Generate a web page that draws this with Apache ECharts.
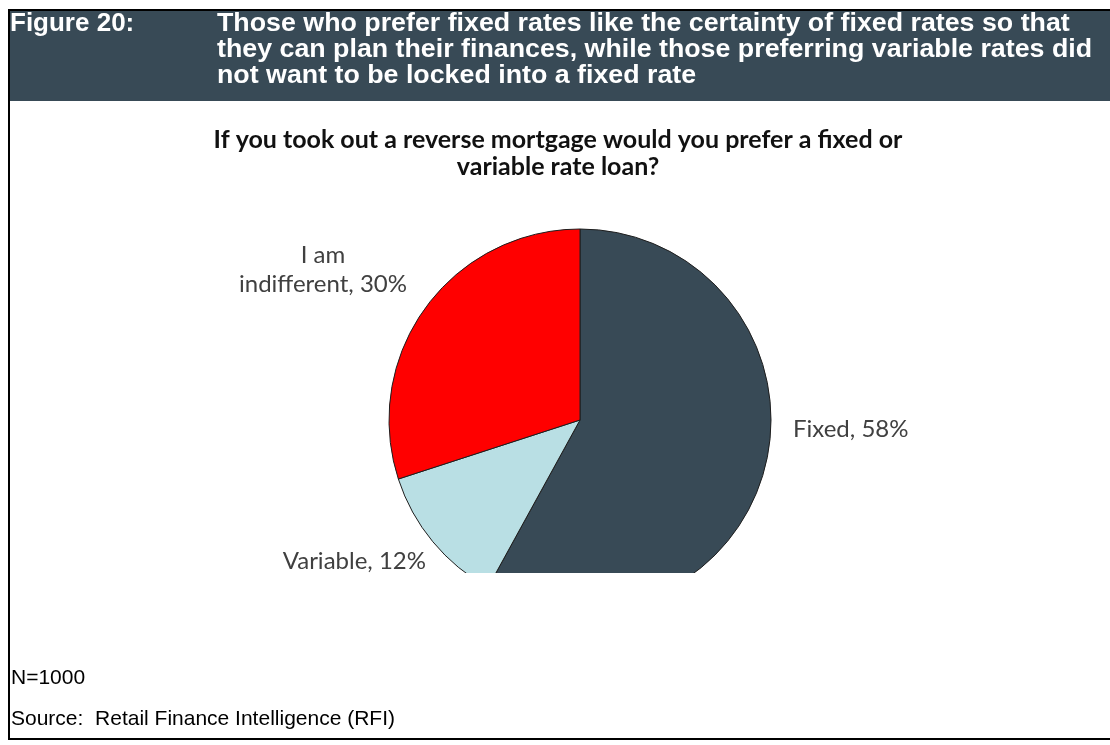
<!DOCTYPE html>
<html>
<head>
<meta charset="utf-8">
<style>
  html, body { margin: 0; padding: 0; background: #ffffff; }
  #chart { width: 1110px; height: 745px; }
</style>
<script src="https://cdn.jsdelivr.net/npm/echarts@6/dist/echarts.min.js"></script>
</head>
<body>
<div id="chart"></div>
<script>
// Survey answers (share of respondents, %)
const categories = ['Fixed', 'Variable', 'I am\nindifferent'];
const shares = [58, 12, 30];
const sliceColors = ['#384a56', '#b9dfe4', '#ff0000'];

const figureLabel = 'Figure 20:';
const headline = 'Those who prefer fixed rates like the certainty of fixed rates so that\nthey can plan their finances, while those preferring variable rates did\nnot want to be locked into a fixed rate';
const question = 'If you took out a reverse mortgage would you prefer a fixed or\nvariable rate loan?';
const sampleNote = 'N=1000';
const sourceNote = 'Source:  Retail Finance Intelligence (RFI)';

// Where each slice label sits beside the pie
const labelSpots = [
  { x: 793, y: 429, align: 'left' },
  { x: 426, y: 561, align: 'right' },
  { x: 323, y: 270, align: 'center' }
];

const chart = echarts.init(document.getElementById('chart'), null, { renderer: 'canvas' });

const headerColor = '#384a56';
const labelFont = 'Lato, "Open Sans", sans-serif';
const arialFont = '"Liberation Sans", Arial, sans-serif';

chart.setOption({
  animation: false,
  backgroundColor: '#ffffff',
  series: [{
    type: 'pie',
    center: [580, 420],
    radius: 191,
    startAngle: 90,
    clockwise: true,
    avoidLabelOverlap: false,
    z: 2,
    data: categories.map((name, i) => ({
      name: name,
      value: shares[i],
      itemStyle: { color: sliceColors[i] }
    })),
    itemStyle: { borderColor: '#1e1e1e', borderWidth: 1 },
    label: {
      show: true,
      position: 'outside',
      formatter: p => p.name + ', ' + p.value + '%',
      fontFamily: labelFont,
      fontSize: 24,
      lineHeight: 29,
      color: '#404040'
    },
    labelLine: { show: false },
    labelLayout: p => {
      const s = labelSpots[p.dataIndex];
      return { x: s.x, y: s.y, align: s.align, verticalAlign: 'middle' };
    },
    emphasis: { disabled: true }
  }],
  graphic: [
    // plot frame ends here: hide the lower part of the pie
    { type: 'rect', z: 100, shape: { x: 440, y: 573, width: 340, height: 160 }, style: { fill: '#ffffff' } },
    // header band
    { type: 'rect', z: 101, shape: { x: 9, y: 11, width: 1101, height: 90 }, style: { fill: headerColor } },
    // frame lines
    { type: 'rect', z: 102, shape: { x: 8, y: 9, width: 1102, height: 2 }, style: { fill: '#000000' } },
    { type: 'rect', z: 102, shape: { x: 8, y: 9, width: 2, height: 731 }, style: { fill: '#000000' } },
    { type: 'rect', z: 102, shape: { x: 8, y: 738, width: 1102, height: 2 }, style: { fill: '#000000' } },
    // header text
    {
      type: 'text', z: 103, x: 10, y: 11,
      style: {
        text: figureLabel, fill: '#ffffff',
        font: 'bold 26px ' + arialFont,
        lineHeight: 26, verticalAlign: 'top'
      }
    },
    {
      type: 'text', z: 103, x: 217, y: 11, scaleX: 1.03,
      style: {
        text: headline, fill: '#ffffff',
        font: 'bold 26px ' + arialFont,
        lineHeight: 26, verticalAlign: 'top'
      }
    },
    // chart question
    {
      type: 'text', z: 103, x: 558, y: 153,
      style: {
        text: question, fill: '#111111',
        font: 'bold 25px ' + labelFont,
        lineHeight: 27, align: 'center', verticalAlign: 'middle'
      }
    },
    // footnotes
    {
      type: 'text', z: 103, x: 11, y: 678,
      style: {
        text: sampleNote, fill: '#000000',
        font: '21px ' + arialFont,
        verticalAlign: 'middle'
      }
    },
    {
      type: 'text', z: 103, x: 11, y: 719,
      style: {
        text: sourceNote, fill: '#000000',
        font: '21px ' + arialFont,
        verticalAlign: 'middle'
      }
    }
  ]
});
</script>
</body>
</html>
